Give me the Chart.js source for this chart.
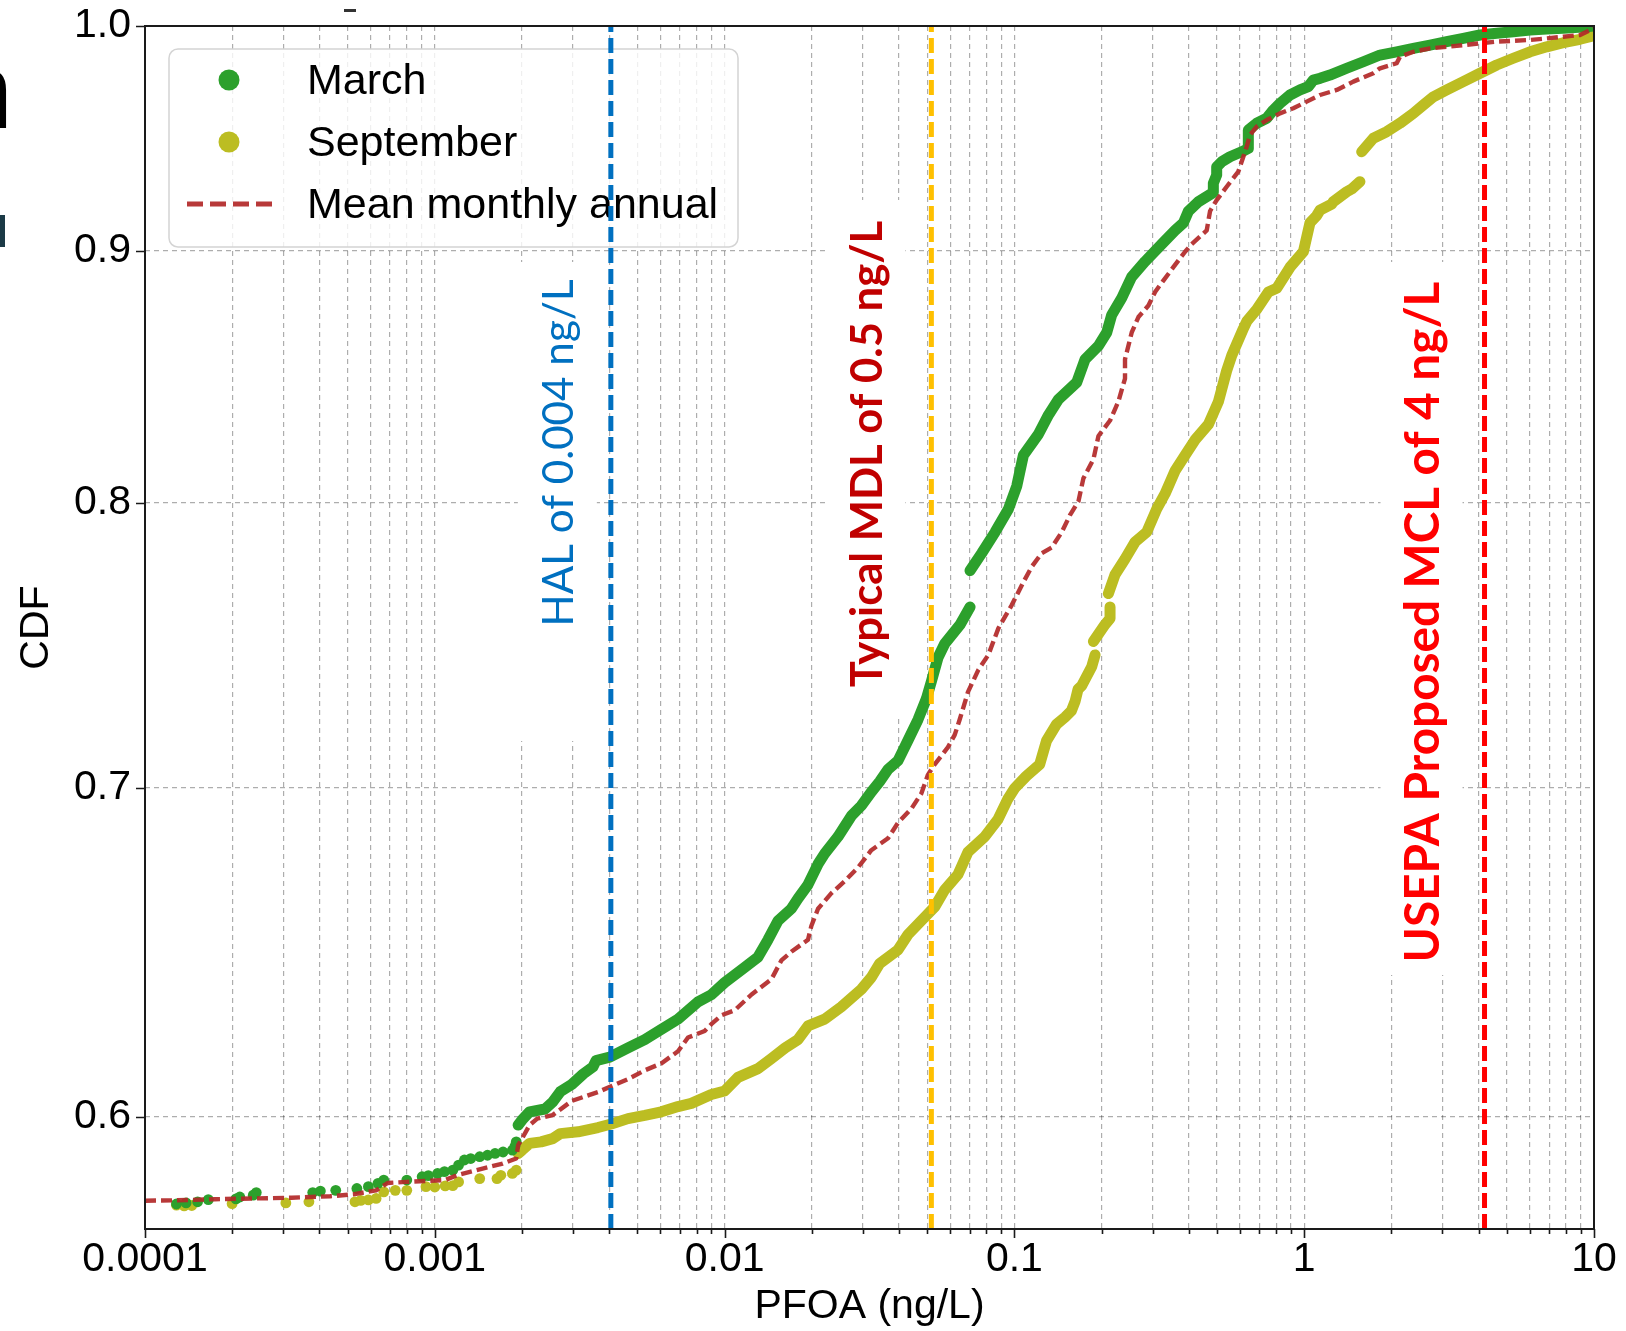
<!DOCTYPE html>
<html>
<head>
<meta charset="utf-8">
<script src="https://cdn.jsdelivr.net/npm/chart.js@4.4.1/dist/chart.umd.min.js"></script>
<style>
html,body{margin:0;padding:0;background:#fff;}
#wrap{position:relative;width:1626px;height:1331px;overflow:hidden;}
canvas{display:block;}
</style>
</head>
<body>
<div id="wrap"><canvas id="c" width="1626" height="1331"></canvas></div>
<script>
// ---------------- DATA ----------------
// Each entry: [PFOA ng/L, CDF]; null breaks a curve.
const marchDots = [
  [0.0001284,0.5760],[0.0001386,0.5763],[0.0001519,0.5766],[0.0001654,0.5772],
  [0.0002060,0.5774],[0.0002124,0.5779],[0.0002363,0.5784],[0.0002421,0.5791],
  [0.0003791,0.5791],[0.0004029,0.5795],[0.0004552,0.5797],[0.0005384,0.5802],
  [0.0005900,0.5807],[0.0006368,0.5816],[0.0006666,0.5825],[0.0008005,0.5825],
  [0.0009043,0.5834],[0.000950,0.5837],[0.001022,0.5843],[0.001080,0.5848],
  [0.001154,0.5852],[0.001208,0.5866],[0.001265,0.5880],[0.001330,0.5884],
  [0.001429,0.5889],[0.001520,0.5893],[0.001614,0.5898],[0.001720,0.5902],
  [0.001852,0.5907],[0.001890,0.5918],[0.001910,0.5930]
];
const marchLine = [
  [0.001939,0.5977],[0.001999,0.5991],[0.002124,0.6014],[0.002400,0.6022],
  [0.002551,0.6042],[0.002710,0.6071],[0.002971,0.6092],[0.003255,0.6122],
  [0.003514,0.6142],[0.003600,0.6160],[0.004014,0.6170],[0.004642,0.6197],
  [0.005302,0.6221],[0.006047,0.6251],[0.006906,0.6281],[0.008094,0.6332],
  [0.008997,0.6353],[0.01000,0.6389],[0.01173,0.6435],[0.01304,0.6466],
  [0.01412,0.6519],[0.01529,0.6577],[0.01699,0.6614],[0.01792,0.6646],
  [0.01940,0.6689],[0.02101,0.6754],[0.02215,0.6787],[0.02462,0.6841],
  [0.02737,0.6908],[0.02962,0.6941],[0.03208,0.6986],[0.03427,0.7020],
  [0.03664,0.7060],[0.03967,0.7089],[0.04295,0.7157],[0.04650,0.7227],
  [0.04966,0.7297],[0.05167,0.7356],[0.05451,0.7440],[0.05748,0.7488],
  [0.0650,0.7556],[0.0703,0.7618],
  null,
  [0.0703,0.7749],[0.0771,0.7812],[0.0858,0.7890],[0.0954,0.7976],
  [0.1019,0.8062],[0.1074,0.8179],[0.1210,0.8260],[0.1311,0.8335],
  [0.1418,0.8395],[0.1641,0.8463],[0.1753,0.8555],[0.1950,0.8609],
  [0.2083,0.8663],[0.2166,0.8734],[0.2346,0.8804],[0.2540,0.8892],
  [0.2825,0.8956],[0.3224,0.9029],[0.3585,0.9087],[0.3830,0.9119],
  [0.3984,0.9169],[0.4314,0.9210],[0.4858,0.9250],[0.4858,0.9290],
  [0.4989,0.9326],[0.4989,0.9362],[0.5191,0.9384],[0.5546,0.9406],
  [0.6085,0.9428],[0.6415,0.9443],[0.6415,0.9525],[0.6856,0.9555],
  [0.7424,0.9577],[0.7824,0.9614],[0.8249,0.9644],[0.8933,0.9682],
  [0.9672,0.9705],[1.033,0.9720],[1.075,0.9750],[1.134,0.9758],
  [1.227,0.9773],[1.402,0.9804],[1.600,0.9834],[1.826,0.9865],
  [2.085,0.9880],[2.380,0.9896],[2.718,0.9911],[3.103,0.9927],
  [3.540,0.9942],[4.043,0.9958],[4.616,0.9966],[5.266,0.9973],
  [6.016,0.9981],[6.868,0.9986],[7.838,0.9989],[9.437,0.9997],[10,1.0]
];
const septDots = [
  [0.0001284,0.5757],[0.0001365,0.5755],[0.0001450,0.5756],[0.0001998,0.5761],
  [0.0003062,0.5763],[0.0003678,0.5766],[0.0005303,0.5766],[0.0005553,0.5770],
  [0.0005900,0.5771],[0.0006273,0.5775],[0.0006666,0.5793],[0.0007305,0.5797],
  [0.0008005,0.5797],[0.0009322,0.5807],[0.001000,0.5806],[0.001086,0.5809],
  [0.001154,0.5810],[0.001208,0.5820],[0.001429,0.5829],[0.001639,0.5829],
  [0.001690,0.5838],[0.001852,0.5843],[0.001910,0.5852]
];
const septLine = [
  [0.001939,0.5898],[0.001999,0.5907],[0.002124,0.5926],[0.002327,0.5930],
  [0.002551,0.5939],[0.002710,0.5953],[0.003119,0.5958],[0.003656,0.5970],
  [0.004064,0.5980],[0.004642,0.5995],[0.005302,0.6004],[0.006047,0.6014],
  [0.006906,0.6029],[0.007676,0.6038],[0.008997,0.6063],[0.01000,0.6073],
  [0.01112,0.6112],[0.01304,0.6137],[0.01450,0.6166],[0.01618,0.6197],
  [0.01792,0.6221],[0.01940,0.6261],[0.02215,0.6281],[0.02527,0.6317],
  [0.02962,0.6369],[0.03208,0.6405],[0.03427,0.6446],[0.03967,0.6488],
  [0.04295,0.6535],[0.04902,0.6588],[0.05309,0.6620],[0.05748,0.6673],
  [0.06387,0.6721],[0.06917,0.6792],[0.07896,0.6841],[0.08776,0.6897],
  [0.09504,0.6964],[0.1002,0.6998],[0.1099,0.7038],[0.1223,0.7077],
  [0.1290,0.7155],[0.1395,0.7210],[0.1496,0.7235],[0.1572,0.7256],
  [0.1620,0.7289],[0.1658,0.7330],[0.1707,0.7342],[0.1848,0.7408],
  [0.1898,0.7449],
  null,
  [0.1874,0.7496],[0.2056,0.7556],[0.2138,0.7577],[0.2138,0.7618],
  null,
  [0.2110,0.7666],[0.2226,0.7735],[0.2408,0.7791],[0.2610,0.7854],
  [0.2861,0.7890],[0.3099,0.7976],[0.3311,0.8033],[0.3585,0.8120],
  [0.3881,0.8179],[0.4200,0.8238],[0.4670,0.8298],[0.5058,0.8387],
  [0.5400,0.8509],[0.5623,0.8570],[0.6168,0.8679],[0.6350,0.8710],
  [0.6855,0.8757],[0.7522,0.8829],[0.8035,0.8844],[0.8937,0.8932],
  [0.9935,0.8997],[1.047,0.9120],[1.104,0.9150],[1.134,0.9174],
  [1.244,0.9200],[1.260,0.9210],[1.402,0.9253],[1.458,0.9265],[1.557,0.9297],
  null,
  [1.579,0.9428],[1.732,0.9488],[1.926,0.9517],[2.141,0.9555],
  [2.380,0.9599],[2.577,0.9637],[2.791,0.9674],[3.103,0.9705],
  [3.540,0.9743],[4.043,0.9781],[4.616,0.9819],[5.266,0.9850],
  [6.016,0.9880],[6.868,0.9903],[7.838,0.9922],[8.948,0.9938],
  [9.687,0.9950],[10,0.9966]
];
const meanLine = [
  [0.0001,0.5769],[0.0001284,0.5770],[0.0001742,0.5773],[0.0002363,0.5775],
  [0.0003206,0.5777],[0.0004350,0.5781],[0.0005224,0.5786],[0.0006273,0.5797],
  [0.0006873,0.5817],[0.0008005,0.5820],[0.001086,0.5825],[0.001190,0.5838],
  [0.001473,0.5857],[0.001715,0.5870],[0.001910,0.5884],[0.001939,0.5921],
  [0.001999,0.5939],[0.002124,0.5977],[0.002257,0.5995],[0.002551,0.6005],
  [0.002971,0.6045],[0.003656,0.6070],[0.004100,0.6088],[0.004642,0.6107],
  [0.005302,0.6132],[0.006047,0.6152],[0.006906,0.6187],[0.007477,0.6227],
  [0.008536,0.6246],[0.008997,0.6266],[0.009741,0.6292],[0.01083,0.6307],
  [0.01236,0.6353],[0.01450,0.6399],[0.01570,0.6456],[0.01699,0.6482],
  [0.01940,0.6519],[0.01992,0.6561],[0.02101,0.6614],[0.02333,0.6662],
  [0.02596,0.6700],[0.02885,0.6743],[0.03208,0.6798],[0.03664,0.6836],
  [0.03967,0.6886],[0.04408,0.6931],[0.04774,0.6981],[0.05034,0.7043],
  [0.05309,0.7077],[0.05900,0.7134],[0.06223,0.7175],[0.06475,0.7227],
  [0.06917,0.7321],[0.0751,0.7397],[0.0813,0.7449],[0.0881,0.7543],
  [0.0979,0.7625],[0.1074,0.7707],[0.1148,0.7763],[0.1242,0.7812],
  [0.1345,0.7833],[0.1457,0.7890],[0.1557,0.7954],[0.1663,0.8004],
  [0.1730,0.8091],[0.1874,0.8164],[0.1950,0.8253],[0.2138,0.8313],
  [0.2284,0.8387],[0.2408,0.8478],[0.2408,0.8555],[0.2540,0.8663],
  [0.2679,0.8726],[0.2901,0.8773],[0.3058,0.8829],[0.3266,0.8876],
  [0.3536,0.8932],[0.3881,0.8997],[0.4090,0.9029],[0.4609,0.9087],
  [0.4733,0.9170],[0.4989,0.9217],[0.5400,0.9275],[0.5925,0.9341],
  [0.6165,0.9406],[0.6333,0.9451],[0.6502,0.9502],[0.6856,0.9540],
  [0.7424,0.9569],[0.8249,0.9599],[0.9170,0.9622],[1.020,0.9652],
  [1.134,0.9682],[1.295,0.9705],[1.477,0.9743],[1.732,0.9781],
  [1.826,0.9804],[2.085,0.9827],[2.141,0.9857],[2.380,0.9880],
  [2.718,0.9896],[3.103,0.9903],[3.540,0.9911],[4.043,0.9919],
  [4.616,0.9927],[5.266,0.9931],[6.016,0.9935],[6.868,0.9942],
  [7.838,0.9950],[8.948,0.9958],[9.687,0.9981],[10,0.9997]
];
// threshold positions (as drawn) and their labels
const thresholdX = [0.00405, 0.0517, 4.19];
const thresholdLabels = ['HAL of 0.004 ng/L', 'Typical MDL of 0.5 ng/L', 'USEPA Proposed MCL of 4 ng/L'];
const legendLabels = ['March', 'September', 'Mean monthly annual'];
// axes
const xMin = 0.0001, xMax = 10;
const yMin = 0.5693, yMax = 1.0;
const xMajorTicks = [0.0001, 0.001, 0.01, 0.1, 1, 10];
const xTickLabels = ['0.0001', '0.001', '0.01', '0.1', '1', '10'];
const yTicks = [0.6, 0.7, 0.8, 0.9, 1.0];
const yTickLabels = ['0.6', '0.7', '0.8', '0.9', '1.0'];

// ---------------- STYLE ----------------
const FONT = "'Liberation Sans', Arial, sans-serif";
const GREEN = '#2ca02c', OLIVE = '#bcbd22', BROWN = 'rgba(178,40,40,0.92)';
const TH_COLORS = ['#0070C0', '#FFC000', '#FF0000'];
const TXT_COLORS = ['#0070C0', '#C00000', '#FF0000'];

function toPts(arr) {
  const out = [];
  let last = null;
  for (const p of arr) {
    if (p === null) { out.push({x: last ? last.x : xMin, y: null}); }
    else { last = {x: p[0], y: p[1]}; out.push(last); }
  }
  return out;
}

// minor + major x ticks built from the decades of the major list
const xAllTicks = [];
for (let i = 0; i < xMajorTicks.length - 1; i++) {
  for (let m = 1; m <= 9; m++) xAllTicks.push({value: xMajorTicks[i] * m, major: m === 1});
}
xAllTicks.push({value: xMajorTicks[xMajorTicks.length - 1], major: true});

function xLabel(v) {
  for (let i = 0; i < xMajorTicks.length; i++) {
    if (Math.abs(v / xMajorTicks[i] - 1) < 1e-6) return xTickLabels[i];
  }
  return '';
}
function yLabel(v) {
  for (let i = 0; i < yTicks.length; i++) if (Math.abs(v - yTicks[i]) < 1e-6) return yTickLabels[i];
  return '';
}

// ---------------- PLUGINS ----------------
const underlay = {
  id: 'underlay',
  beforeDatasetsDraw(chart) {
    const {ctx} = chart;
    const xs = chart.scales.x;
    // white text boxes (hide grid) and rotated labels
    const boxes = [
      {dx0: -93, dx1: -14, y0: 262, y1: 741, base: -38, cy: 453, len: 347, bold: false},
      {dx0: -104, dx1: -26, y0: 200, y1: 715, base: -49, cy: 454, len: 466, bold: true},
      {dx0: -104, dx1: -22, y0: 262, y1: 975, base: -46, cy: 622, len: 681, bold: true}
    ];
    boxes.forEach((b, i) => {
      const px = xs.getPixelForValue(thresholdX[i]);
      ctx.save();
      ctx.fillStyle = '#ffffff';
      ctx.fillRect(px + b.dx0, b.y0, b.dx1 - b.dx0, b.y1 - b.y0);
      const fam = "Lato, 'Open Sans', sans-serif";
      const weight = b.bold ? 'bold ' : '';
      ctx.font = weight + '100px ' + fam;
      const w100 = ctx.measureText(thresholdLabels[i]).width;
      const size = 100 * b.len / w100;
      ctx.font = weight + size.toFixed(1) + 'px ' + fam;
      ctx.fillStyle = TXT_COLORS[i];
      ctx.textAlign = 'center';
      ctx.textBaseline = 'alphabetic';
      ctx.translate(px + b.base, b.cy);
      ctx.rotate(-Math.PI / 2);
      ctx.fillText(thresholdLabels[i], 0, 0);
      ctx.restore();
    });
    // legend
    ctx.save();
    const lx = 169, ly = 49, lw = 569, lh = 198, r = 9;
    ctx.beginPath();
    ctx.moveTo(lx + r, ly);
    ctx.arcTo(lx + lw, ly, lx + lw, ly + lh, r);
    ctx.arcTo(lx + lw, ly + lh, lx, ly + lh, r);
    ctx.arcTo(lx, ly + lh, lx, ly, r);
    ctx.arcTo(lx, ly, lx + lw, ly, r);
    ctx.closePath();
    ctx.fillStyle = 'rgba(255,255,255,0.8)';
    ctx.fill();
    ctx.strokeStyle = '#d4d4d4';
    ctx.lineWidth = 1.5;
    ctx.stroke();
    const rows = [80, 142, 204];
    ctx.fillStyle = GREEN;
    ctx.beginPath(); ctx.arc(229, rows[0], 10.5, 0, Math.PI * 2); ctx.fill();
    ctx.fillStyle = OLIVE;
    ctx.beginPath(); ctx.arc(229, rows[1], 10.5, 0, Math.PI * 2); ctx.fill();
    ctx.strokeStyle = BROWN;
    ctx.lineWidth = 5;
    ctx.setLineDash([16, 7]);
    ctx.beginPath(); ctx.moveTo(187, rows[2]); ctx.lineTo(272, rows[2]); ctx.stroke();
    ctx.setLineDash([]);
    ctx.fillStyle = '#000';
    ctx.font = '43px ' + FONT;
    ctx.textBaseline = 'middle';
    ctx.textAlign = 'left';
    legendLabels.forEach((t, i) => ctx.fillText(t, 307, rows[i] + 2));
    ctx.restore();
  },
  afterDraw(chart) {
    const {ctx, chartArea: a} = chart;
    const xs = chart.scales.x, ys = chart.scales.y;
    ctx.save();
    // frame
    ctx.strokeStyle = '#1a1a1a';
    ctx.lineWidth = 2;
    ctx.strokeRect(a.left, a.top, a.right - a.left, a.bottom - a.top);
    // tick marks
    ctx.beginPath();
    xs.ticks.forEach(t => {
      const px = Math.round(xs.getPixelForValue(t.value)) + 0.5;
      const len = t.major ? 9 : 5;
      ctx.moveTo(px, a.bottom); ctx.lineTo(px, a.bottom + len);
    });
    ys.ticks.forEach(t => {
      const py = Math.round(ys.getPixelForValue(t.value)) + 0.5;
      ctx.moveTo(a.left, py); ctx.lineTo(a.left - 9, py);
    });
    ctx.lineWidth = 1.6;
    ctx.stroke();
    // stray fragments at the picture's edges (cropped slide)
    ctx.fillStyle = '#000';
    ctx.font = '108px ' + FONT;
    ctx.textBaseline = 'alphabetic';
    ctx.fillText('n', -47, 128);
    ctx.fillStyle = '#1b3a46';
    ctx.fillRect(0, 215, 5, 32);
    ctx.fillStyle = '#333';
    ctx.fillRect(344, 9, 12, 3);
    ctx.restore();
  }
};

// ---------------- CHART ----------------
const dsLine = (label, data, color, width, order) => ({
  label, data: toPts(data), showLine: true, borderColor: color, backgroundColor: color,
  borderWidth: width, pointRadius: 0, pointHoverRadius: 0, spanGaps: false,
  borderCapStyle: 'round', borderJoinStyle: 'round', tension: 0, order
});
const dsDots = (label, data, color, order) => ({
  label, data: toPts(data), showLine: false, backgroundColor: color, borderColor: color,
  borderWidth: 0, pointRadius: 5.4, pointHoverRadius: 0, order
});
const thresholdSets = thresholdX.map((xv, i) => ({
  label: thresholdLabels[i],
  data: [{x: xv, y: yMin}, {x: xv, y: yMax}],
  showLine: true, borderColor: TH_COLORS[i], borderWidth: 5, borderDash: [15, 6],
  pointRadius: 0, pointHoverRadius: 0, order: 0
}));

const zeroPad = s => { s.paddingTop = 0; s.paddingBottom = 0; s.paddingLeft = 0; s.paddingRight = 0; };

new Chart(document.getElementById('c'), {
  type: 'scatter',
  data: {
    datasets: [
      ...thresholdSets,
      {...dsLine(legendLabels[2], meanLine, BROWN, 4.4, 1), borderDash: [11, 5], borderCapStyle: 'butt'},
      dsLine(legendLabels[0], marchLine, GREEN, 11, 2),
      dsDots(legendLabels[0], marchDots, GREEN, 2),
      dsLine(legendLabels[1], septLine, OLIVE, 11, 3),
      dsDots(legendLabels[1], septDots, OLIVE, 3)
    ]
  },
  options: {
    responsive: false,
    animation: false,
    devicePixelRatio: 1,
    layout: {padding: {left: 0, right: 32, top: 26, bottom: 0}},
    plugins: {legend: {display: false}, tooltip: {enabled: false}},
    events: [],
    scales: {
      x: {
        type: 'logarithmic', min: xMin, max: xMax,
        afterBuildTicks: s => { s.ticks = xAllTicks.map(t => ({value: t.value, major: t.major})); },
        afterFit: s => { s.height = 102; zeroPad(s); },
        ticks: {autoSkip: false, maxRotation: 0, minRotation: 0, padding: 6, color: '#000',
                font: {family: FONT, size: 41}, callback: v => xLabel(v)},
        grid: {color: 'rgba(0,0,0,0.32)', lineWidth: 1.2, drawTicks: false},
        border: {display: false, dash: [5, 4]},
        title: {display: true, text: 'PFOA (ng/L)', color: '#000', font: {family: FONT, size: 41},
                padding: {top: 0, bottom: 0}}
      },
      y: {
        type: 'logarithmic', min: yMin, max: yMax,
        afterBuildTicks: s => { s.ticks = yTicks.map(v => ({value: v, major: true})); },
        afterFit: s => { s.width = 145; zeroPad(s); },
        ticks: {autoSkip: false, padding: 14, color: '#000', font: {family: FONT, size: 41},
                callback: v => yLabel(v)},
        grid: {color: 'rgba(0,0,0,0.32)', lineWidth: 1.2, drawTicks: false},
        border: {display: false, dash: [5, 4]},
        title: {display: true, text: 'CDF', color: '#000', font: {family: FONT, size: 41},
                padding: {top: 12, bottom: 0}}
      }
    }
  },
  plugins: [underlay]
});
</script>
</body>
</html>
